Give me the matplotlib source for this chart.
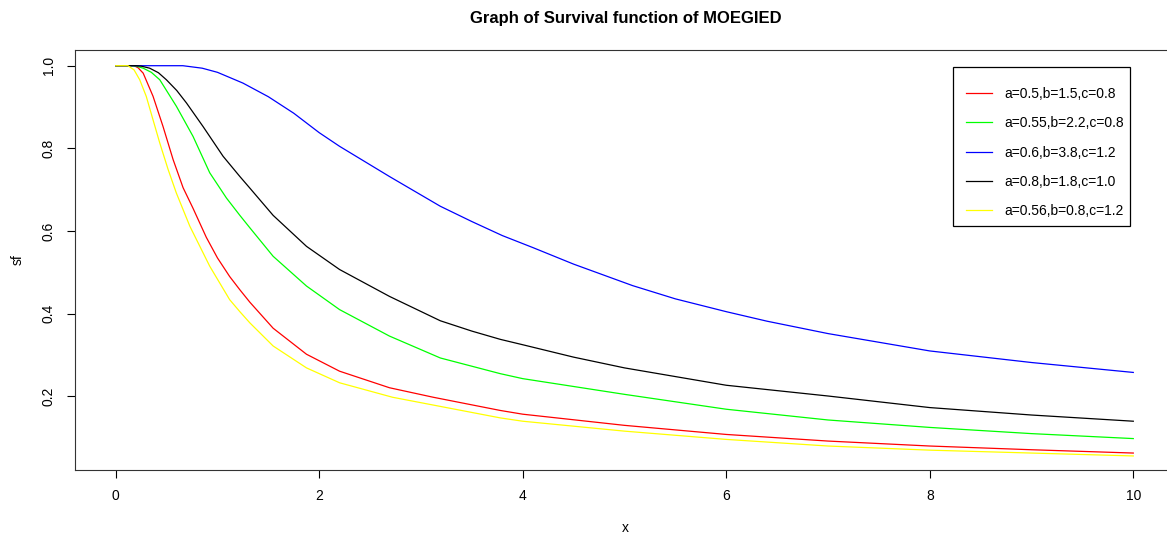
import matplotlib
matplotlib.use("Agg")
import matplotlib.pyplot as plt
from matplotlib.patches import Rectangle

plt.rcParams["font.family"] = ["Liberation Sans", "DejaVu Sans"]

# curves
x_red = [0, 0.18, 0.22, 0.27, 0.367, 0.465, 0.564, 0.662, 0.76, 0.89, 1.0, 1.12, 1.22, 1.318, 1.547,
         1.875, 2.2, 2.69, 3.12, 3.78, 4, 5, 6, 7, 8, 9, 10]
y_red = [1.0, 1.0, 0.995, 0.982, 0.926, 0.853, 0.773, 0.705, 0.655, 0.585, 0.535, 0.49, 0.458, 0.428,
         0.365, 0.302, 0.261, 0.221, 0.198, 0.166, 0.157, 0.13, 0.108, 0.092, 0.08, 0.071, 0.063]

x_green = [0, 0.15, 0.2, 0.27, 0.35, 0.433, 0.596, 0.76, 0.924, 1.088, 1.22, 1.318, 1.547, 1.875, 2.2,
           2.69, 3.19, 3.78, 4, 5, 6, 7, 8, 9, 10]
y_green = [1.0, 1.0, 0.999, 0.994, 0.984, 0.966, 0.902, 0.829, 0.741, 0.68, 0.638, 0.608, 0.539, 0.467,
           0.41, 0.346, 0.293, 0.255, 0.243, 0.205, 0.169, 0.143, 0.125, 0.11, 0.098]

x_blue = [0, 0.66, 0.85, 1.0, 1.25, 1.5, 1.75, 2.0, 2.2, 2.69, 3.19, 3.5, 3.8, 4.1, 4.5, 5.08, 5.5, 6,
          6.4, 7, 8, 9, 10]
y_blue = [1.0, 1.0, 0.994, 0.984, 0.958, 0.925, 0.885, 0.838, 0.805, 0.732, 0.66, 0.623, 0.589, 0.56,
          0.52, 0.468, 0.436, 0.405, 0.382, 0.352, 0.31, 0.282, 0.258]

x_black = [0, 0.2, 0.25, 0.334, 0.42, 0.498, 0.6, 0.695, 0.858, 1.055, 1.22, 1.318, 1.547, 1.875, 2.2,
           2.69, 3.19, 3.5, 3.78, 4, 4.5, 5, 6, 7, 8, 9, 10]
y_black = [1.0, 1.0, 0.999, 0.994, 0.983, 0.966, 0.94, 0.91, 0.853, 0.781, 0.732, 0.704, 0.638, 0.563,
           0.507, 0.442, 0.383, 0.358, 0.338, 0.325, 0.295, 0.269, 0.227, 0.201, 0.173, 0.155, 0.14]

x_yellow = [0, 0.12, 0.18, 0.236, 0.30, 0.367, 0.433, 0.515, 0.596, 0.728, 0.924, 1.12, 1.22, 1.318,
            1.547, 1.875, 2.2, 2.72, 3.78, 4, 5, 6, 7, 8, 9, 10]
y_yellow = [1.0, 1.0, 0.99, 0.966, 0.926, 0.869, 0.813, 0.749, 0.692, 0.612, 0.515, 0.434, 0.405, 0.378,
            0.322, 0.269, 0.233, 0.198, 0.148, 0.140, 0.116, 0.096, 0.080, 0.070, 0.063, 0.056]

labels = ["a=0.5,b=1.5,c=0.8", "a=0.55,b=2.2,c=0.8", "a=0.6,b=3.8,c=1.2",
          "a=0.8,b=1.8,c=1.0", "a=0.56,b=0.8,c=1.2"]
colors = ["red", "#00ff00", "blue", "black", "yellow"]
xs = [x_red, x_green, x_blue, x_black, x_yellow]
ys = [y_red, y_green, y_blue, y_black, y_yellow]

W, H = 1167, 536
fig = plt.figure(figsize=(W / 100, H / 100), dpi=100)
ax = fig.add_axes([75 / W, (H - 470) / H, (1174 - 75) / W, (470 - 50) / H])

for xv, yv, c, lab in zip(xs, ys, colors, labels):
    ax.plot(xv, yv, color=c, lw=0.9, label=lab)

ax.set_xlim(-0.4, 10.4)
ax.set_ylim(0.022, 1.038)
ax.set_xticks([0, 2, 4, 6, 8, 10])
ax.set_yticks([0.2, 0.4, 0.6, 0.8, 1.0])
ax.set_yticklabels(["0.2", "0.4", "0.6", "0.8", "1.0"], rotation=90, va="center")
ax.tick_params(length=6, width=0.8, labelsize=10, pad=8)
for s in ax.spines.values():
    s.set_linewidth(0.8)
    s.set_color("#333333")

fig.text(625 / W, 1 - 528 / H, "x", ha="center", va="center", fontsize=10)
fig.text(18 / W, 1 - 260 / H, "sf", ha="center", va="center", fontsize=10, rotation=90)
fig.text(626 / W, 1 - 18 / H, "Graph of Survival function of MOEGIED", ha="center", va="center",
         fontsize=12, fontweight="bold")

# legend box drawn by hand, entries from the legend
box = Rectangle((953 / W, 1 - 226 / H), (1130 - 953) / W, (226 - 67) / H,
                transform=fig.transFigure, facecolor="white", edgecolor="black", lw=0.9,
                zorder=5, clip_on=False)
ax.add_patch(box)
leg = ax.legend(loc="upper left", bbox_to_anchor=(966 / W, 1 - 87 / H), bbox_transform=fig.transFigure,
                fontsize=10, frameon=False, handlelength=1.87, handletextpad=0.86,
                labelspacing=1.1, borderpad=0, borderaxespad=0)
leg.set_zorder(6)

fig.savefig("out.png", dpi=100)
